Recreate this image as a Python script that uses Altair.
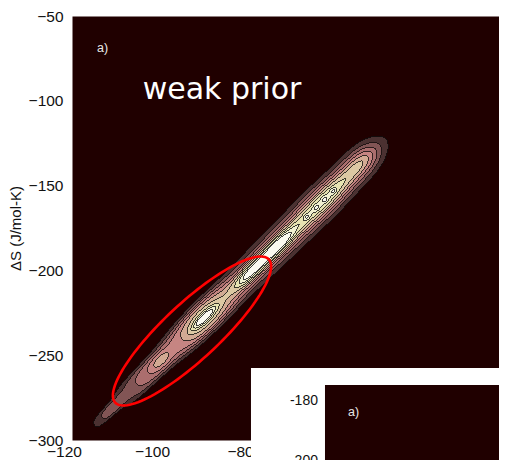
import numpy as np
import pandas as pd
import altair as alt

# ---------------- axes ----------------
X_DOMAIN = [-120, -23]
Y_DOMAIN = [-300, -50]
X_TICKS = [-120, -100, -80]
Y_TICKS = [-50, -100, -150, -200, -250, -300]
Y_TITLE = "ΔS (J/mol-K)"
PLOT_W, PLOT_H = 427, 424

# ---------------- posterior ridge: components of the density ----------------
# centre (data units), amplitude, along-ridge sigma and cross-ridge width (x-units), cross-profile power
comp_x = [-111.53, -102.56, -90.45, -74.25, -61.28, -53.96,      # broad parts
          -99.86, -89.97, -79.44, -73.44,                           # peaks
          -66.63, -64.52, -62.58, -60.63]                           # small maxima
comp_y = [-282.89, -260.16, -229.13, -187.84, -154.77, -135.11,
          -253.14, -227.93, -201.06, -185.77,
          -168.42, -163.04, -158.09, -153.12]
comp_amp = [0.20, 0.33, 0.55, 0.55, 0.62, 0.30,
            0.20, 0.45, 0.50, 0.50,
            0.15, 0.15, 0.15, 0.15]
comp_len = [3.64, 6.82, 6.82, 12.50, 7.95, 3.64,
            2.27, 2.50, 3.64, 3.64,
            0.57, 0.57, 0.57, 0.57]
comp_wid = [1.14, 2.27, 3.00, 2.27, 2.16, 2.16,
            1.02, 0.68, 1.14, 1.14,
            0.45, 0.45, 0.45, 0.45]
comp_pow = [4, 4, 4, 2, 2, 2,
            2, 2, 2, 2,
            2, 2, 2, 2]
RIDGE_ANGLE = 44.5

LEVELS = [0.1, 0.2, 0.3, 0.4, 0.5, 0.6, 0.7, 0.8, 0.9]
BAND_COLORS = ["#4b3131", "#825555", "#ab6e6e", "#c68582", "#d2aa93",
               "#dcc8a3", "#e6e3b1", "#f0f0d0", "#fafaf0"]
BG = "#200000"

# ---------------- annotation ellipse ----------------
ell_cx, ell_cy, ell_a, ell_b, ell_ang = -92.74, -235.73, 23.85, 6.36, 43.0

# ---------------- field on a pixel grid ----------------
nx, ny = PLOT_W, PLOT_H
xe = np.linspace(X_DOMAIN[0], X_DOMAIN[1], nx + 1)
ye = np.linspace(Y_DOMAIN[0], Y_DOMAIN[1], ny + 1)
xc = (xe[:-1] + xe[1:]) / 2
yc = (ye[:-1] + ye[1:]) / 2
aspect = (PLOT_H / (Y_DOMAIN[1] - Y_DOMAIN[0])) / (PLOT_W / (X_DOMAIN[1] - X_DOMAIN[0]))
U, V = np.meshgrid(xc, yc * aspect)
th = np.deg2rad(RIDGE_ANGLE)
F = np.zeros_like(U)
for cx, cy, a, L, W, p in zip(comp_x, comp_y, comp_amp, comp_len, comp_wid, comp_pow):
    du = U - cx
    dv = V - cy * aspect
    al = du * np.cos(th) + dv * np.sin(th)
    cr = -du * np.sin(th) + dv * np.cos(th)
    F += a * np.exp(-al ** 2 / (2 * L ** 2) - 0.5 * np.abs(cr / W) ** p)

band = np.searchsorted(np.array(LEVELS), F, side="right")
P = np.pad(band, 1, mode="edge")
nbmin = np.minimum.reduce([P[:-2, 1:-1], P[2:, 1:-1], P[1:-1, :-2], P[1:-1, 2:]])
edge = (band > nbmin).astype(int)


def runs(row):
    n = len(row)
    ch = np.flatnonzero(np.diff(row)) + 1
    st = np.concatenate([[0], ch])
    en = np.concatenate([ch, [n]])
    return st, en, row[st]


rows = []
erows = []
for j in range(ny):
    st, en, v = runs(band[j])
    for s, e, b in zip(st, en, v):
        if b > 0:
            rows.append((round(xe[s], 4), round(xe[e], 4), round(ye[j], 4), round(ye[j + 1], 4), int(b)))
    st, en, v = runs(edge[j])
    for s, e, b in zip(st, en, v):
        if b > 0:
            erows.append((round(xe[s], 4), round(xe[e], 4), round(ye[j], 4), round(ye[j + 1], 4)))

bands_df = pd.DataFrame(rows, columns=["x", "x2", "y", "y2", "band"])
edges_df = pd.DataFrame(erows, columns=["x", "x2", "y", "y2"])

t = np.linspace(0, 2 * np.pi, 121)
ph = np.deg2rad(ell_ang)
eu = ell_cx + ell_a * np.cos(t) * np.cos(ph) - ell_b * np.sin(t) * np.sin(ph)
ev = ell_cy * aspect + ell_a * np.cos(t) * np.sin(ph) + ell_b * np.sin(t) * np.cos(ph)
ell_df = pd.DataFrame({"x": eu, "y": ev / aspect, "o": np.arange(len(t))})

# ---------------- encodings ----------------
XS = alt.Scale(domain=X_DOMAIN, nice=False, zero=False)
YS = alt.Scale(domain=Y_DOMAIN, nice=False, zero=False)
XA = alt.Axis(values=X_TICKS, ticks=False, domain=False, grid=False, labelPadding=4,
              labelOffset=-8, labelFlush=False, labelFont="Liberation Sans", labelFontSize=15.5,
              labelColor="#111111", title=None)
YA = alt.Axis(values=Y_TICKS, ticks=False, domain=False, grid=False, labelPadding=9,
              labelFlush=False, labelFont="Liberation Sans", labelFontSize=15.5, labelColor="#111111",
              title=Y_TITLE, titleFont="Liberation Sans", titleFontSize=15,
              titleFontWeight="normal", titleColor="#111111", titlePadding=5)


def X(f="x"):
    return alt.X(f, type="quantitative", scale=XS, axis=XA)


def Y(f="y"):
    return alt.Y(f, type="quantitative", scale=YS, axis=YA)


band_layer = alt.Chart(bands_df).mark_rect(strokeWidth=0).encode(
    x=X(), x2="x2", y=Y(), y2="y2",
    color=alt.Color("band:O", scale=alt.Scale(domain=list(range(1, 10)), range=BAND_COLORS), legend=None),
)
edge_layer = alt.Chart(edges_df).mark_rect(strokeWidth=0, color="#000000", opacity=0.75).encode(
    x=X(), x2="x2", y=Y(), y2="y2"
)
ell_layer = alt.Chart(ell_df).mark_line(color="#ff0000", strokeWidth=2.6).encode(
    x=X(), y=Y(), order="o:Q"
)

txt_df = pd.DataFrame({"x": [-114.3], "y": [-68.6], "t": ["a)"]})
a_layer = alt.Chart(txt_df).mark_text(align="left", baseline="middle", font="Liberation Sans",
                                      fontSize=12.5, color="#e8e8e8").encode(x=X(), y=Y(), text="t:N")
wp_df = pd.DataFrame({"x": [-85.92], "y": [-99.1], "t": ["weak prior"]})
wp_layer = alt.Chart(wp_df).mark_text(align="center", baseline="alphabetic", font="DejaVu Sans",
                                      fontSize=30, color="#ffffff").encode(x=X(), y=Y(), text="t:N")

inset_white = pd.DataFrame({"x": [-79.34], "x2": [-10], "y": [-257.5], "y2": [-330]})
w_layer = alt.Chart(inset_white).mark_rect(color="#ffffff", strokeWidth=0).encode(
    x=X(), x2="x2", y=Y(), y2="y2")
inset_dark = pd.DataFrame({"x": [-62.53], "x2": [-10], "y": [-267.57], "y2": [-330]})
d_layer = alt.Chart(inset_dark).mark_rect(color=BG, strokeWidth=0).encode(
    x=X(), x2="x2", y=Y(), y2="y2")
lab_df = pd.DataFrame({"x": [-64.12, -64.12], "y": [-277.0, -312.4], "t": ["-180", "-200"]})
lab_layer = alt.Chart(lab_df).mark_text(align="right", baseline="middle", font="Liberation Sans",
                                        fontSize=14, color="#111111").encode(x=X(), y=Y(), text="t:N")
ia_df = pd.DataFrame({"x": [-57.3], "y": [-283.5], "t": ["a)"]})
ia_layer = alt.Chart(ia_df).mark_text(align="left", baseline="middle", font="Liberation Sans",
                                      fontSize=12.5, color="#e8e8e8").encode(x=X(), y=Y(), text="t:N")

chart = alt.layer(
    band_layer, edge_layer, ell_layer, a_layer, wp_layer,
    w_layer, d_layer, lab_layer, ia_layer
).properties(
    width=PLOT_W, height=PLOT_H,
    autosize=alt.AutoSizeParams(type="none"),
    padding={"left": 64, "top": 8, "right": 0, "bottom": 20},
).configure(
    background="white",
    view=alt.ViewConfig(fill=BG, stroke="transparent"),
)

chart.save("out.html", embed_options={"renderer": "svg", "actions": False})
